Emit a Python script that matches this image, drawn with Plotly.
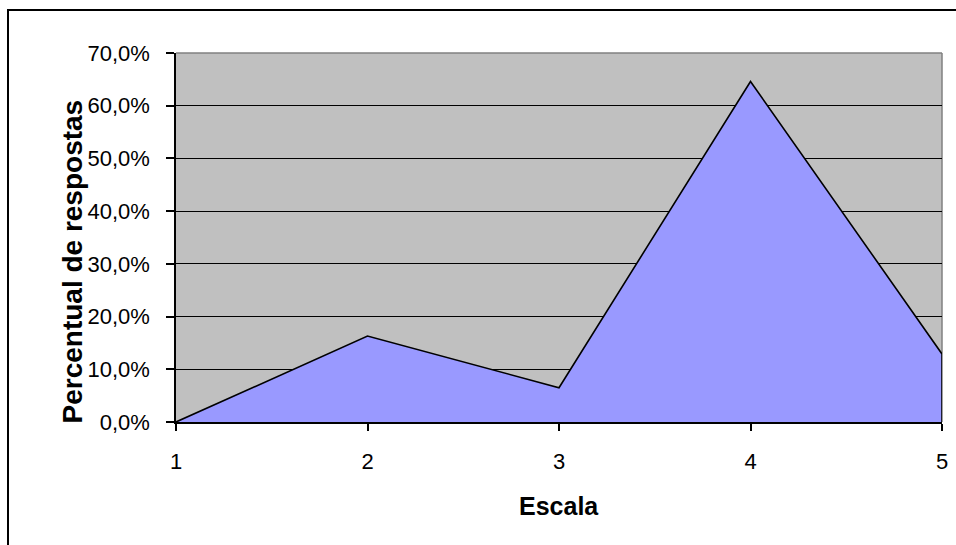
import plotly.graph_objects as go

categories = [1, 2, 3, 4, 5]
percent_values = [0.0, 16.3, 6.5, 64.6, 12.9]
y_tick_values = [0, 10, 20, 30, 40, 50, 60, 70]
y_tick_labels = ["0,0%", "10,0%", "20,0%", "30,0%", "40,0%", "50,0%", "60,0%", "70,0%"]
x_title = "Escala"
y_title = "Percentual de respostas"

W, H = 956, 545
ml, mr, mt, mb = 176, 14, 53, 123
pw, ph = W - ml - mr, H - mt - mb

# closed polygon so the area outline includes the vertical edges
poly_x = [categories[0]] + categories + [categories[-1]]
poly_y = [0] + percent_values + [0]

fig = go.Figure()
fig.add_trace(go.Scatter(
    x=poly_x, y=poly_y, mode="lines", fill="toself",
    fillcolor="#9999FF", line=dict(color="black", width=1.6),
    hoverinfo="skip", showlegend=False,
))

font = "Liberation Sans, Arial, sans-serif"
fig.update_layout(
    width=W, height=H,
    margin=dict(l=ml, r=mr, t=mt, b=mb, autoexpand=False),
    paper_bgcolor="white", plot_bgcolor="#C0C0C0",
    font=dict(family=font, color="black", size=22),
    xaxis=dict(
        range=[categories[0], categories[-1]], tickvals=categories,
        ticktext=[str(c) for c in categories],
        showgrid=False, zeroline=False, showline=True, linecolor="black", linewidth=1.5,
        ticks="outside", ticklen=7, tickcolor="black", tickwidth=1.5,
        tickfont=dict(size=22), ticklabelstandoff=12,
    ),
    yaxis=dict(
        range=[0, 70], tickvals=y_tick_values, ticktext=y_tick_labels,
        showgrid=True, gridcolor="black", gridwidth=1.2, zeroline=False,
        showline=True, linecolor="black", linewidth=1.5,
        ticks="outside", ticklen=8, tickcolor="black", tickwidth=1.5,
        tickfont=dict(size=22), ticklabelstandoff=12,
    ),
    annotations=[
        dict(text="<b>" + x_title + "</b>", xref="paper", yref="paper",
             x=(558.5 - ml) / pw, y=(H - mb - 506) / ph, xanchor="center", yanchor="middle",
             showarrow=False, font=dict(size=25)),
        dict(text="<b>" + y_title + "</b>", xref="paper", yref="paper",
             x=(72 - ml) / pw, y=(H - mb - 261.5) / ph, xanchor="center", yanchor="middle",
             textangle=-90, showarrow=False, font=dict(size=28)),
    ],
    shapes=[
        dict(type="line", xref="paper", yref="paper", x0=0, x1=1, y0=1, y1=1,
             line=dict(color="#808080", width=1.5), layer="above"),
        dict(type="line", xref="paper", yref="paper", x0=1, x1=1, y0=0, y1=1,
             line=dict(color="#808080", width=1.5), layer="between"),
        dict(type="rect", xref="paper", yref="paper",
             x0=(8 - ml) / pw, x1=(962 - ml) / pw,
             y0=(H - mb - 552) / ph, y1=1 + (mt - 10) / ph,
             line=dict(color="black", width=2), fillcolor="rgba(0,0,0,0)", layer="above"),
    ],
)

fig.write_html("out.html", config={"displayModeBar": False},
               post_script="document.body.style.margin='0';document.body.style.overflow='hidden';")
